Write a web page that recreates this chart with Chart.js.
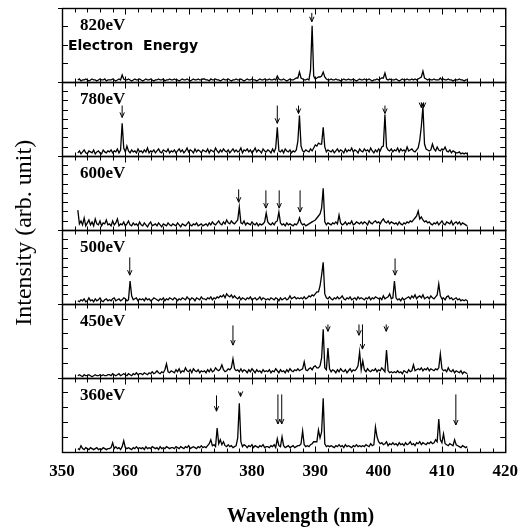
<!DOCTYPE html>
<html>
<head>
<meta charset="utf-8">
<script src="https://cdn.jsdelivr.net/npm/chart.js@4"></script>
<style>
  body { margin: 0; background: #fff; }
  canvas { display: block; }
</style>
</head>
<body>
<canvas id="espectros" width="528" height="531"></canvas>
<script>
/* ----- Datos ----- */
// eje de longitud de onda: cada serie empieza en 352.5 nm, un punto cada 0.25 nm
const wavelengthStart = 352.5;
const wavelengthStep = 0.25;
const xTickLabels = [350, 360, 370, 380, 390, 400, 410, 420];
const energies = ["820eV", "780eV", "600eV", "500eV", "450eV", "360eV"];
const yTickCounts = [4, 8, 8, 8, 5, 5];
const panelMax = 75;

const s820 = [
  2,3,1,2,2,3,2,1,2,3,2,2,1,2,3,2,2,3,1,2,
  2,2,3,2,1,2,3,2,7,3,2,2,3,2,1,2,3,2,2,3,
  2,1,2,3,2,2,3,2,1,2,2,3,2,2,3,1,2,2,3,2,
  2,3,2,2,1,2,3,2,2,3,2,1,2,3,2,2,3,2,2,3,
  3,2,2,1,3,2,2,3,2,2,1,2,3,2,2,3,2,1,2,2,
  3,2,2,3,2,1,2,3,2,2,3,2,2,1,2,3,2,2,3,2,
  2,3,2,2,3,2,6,3,2,2,3,2,1,2,3,2,2,3,4,4,
  10,4,3,2,2,3,2,12,57,6,3,4,5,5,6,10,5,3,2,2,
  3,2,2,3,2,2,1,2,3,2,2,3,2,2,3,2,1,2,3,2,
  2,3,2,2,3,2,1,2,2,3,2,3,4,4,9,3,2,3,2,2,
  2,3,2,1,2,3,2,2,3,2,2,3,2,3,2,3,4,5,11,4,
  3,2,3,2,2,3,2,2,2,4,2,3,2,2,3,2,2,1,2,2,
  2,3,2,2,1,2,2
];
const s780 = [
  3,5,2,4,6,3,2,5,4,3,6,2,4,5,3,2,6,4,3,5,
  4,6,3,5,4,7,3,6,33,8,4,10,5,3,6,4,5,3,7,4,
  5,3,6,4,8,3,5,4,6,3,5,7,4,3,6,5,4,7,3,5,
  4,6,3,5,7,4,6,3,5,8,4,6,5,3,7,4,6,5,3,6,
  5,4,7,3,6,5,4,8,5,3,6,4,7,5,4,6,3,5,7,4,
  6,4,5,8,3,6,5,7,4,6,3,5,8,4,6,5,3,7,5,4,
  6,5,3,7,4,8,29,5,4,6,3,7,5,4,6,3,5,4,6,15,
  41,10,5,4,6,5,4,7,5,8,11,10,13,12,12,29,9,4,6,5,
  4,6,3,5,7,4,6,5,3,7,4,6,5,8,4,6,5,3,7,5,
  4,7,5,6,4,8,5,3,6,4,7,5,9,10,42,9,6,5,7,4,
  6,5,8,4,7,5,6,4,9,5,6,7,5,4,6,8,16,30,50,12,
  7,6,5,6,12,7,5,9,6,5,7,6,9,5,4,6,3,5,4,3,
  3,4,2,3,2,3,2
];
const s600 = [
  20,6,9,5,12,4,7,10,5,8,4,11,6,5,9,4,7,6,10,5,
  6,4,9,5,7,11,4,6,5,8,4,6,9,5,4,7,5,6,4,8,
  5,4,7,5,3,6,8,4,5,6,4,7,5,3,6,5,4,7,5,4,
  6,5,4,7,5,3,6,5,4,6,8,5,4,6,5,7,4,5,6,4,
  5,6,4,7,5,8,6,5,7,9,6,5,8,6,10,7,6,9,7,6,
  8,10,23,7,6,9,5,7,6,5,8,6,5,7,4,6,5,6,8,17,
  8,6,5,7,5,8,9,18,7,5,6,4,7,5,6,5,4,6,5,7,
  12,7,5,6,4,5,6,7,8,9,10,12,14,16,22,42,8,5,7,6,
  5,7,6,8,6,15,7,5,6,8,5,7,6,9,5,6,8,7,6,8,
  6,8,7,5,9,7,6,8,9,7,8,6,9,11,8,7,9,6,8,7,
  6,7,5,8,6,5,7,6,8,7,9,8,10,12,14,19,11,13,10,8,
  9,7,8,6,5,7,6,8,5,7,9,6,5,8,7,6,9,5,7,8,
  6,8,5,7,6,5,4
];
const s500 = [
  3,2,4,3,5,2,3,6,3,4,2,5,3,4,6,3,2,4,5,3,
  4,3,5,6,3,4,5,3,4,6,5,3,4,23,8,4,5,6,3,5,
  4,5,3,6,4,5,3,4,6,5,4,3,5,4,6,3,5,4,6,5,
  4,6,5,3,5,4,6,5,4,7,5,4,6,5,3,6,5,4,7,5,
  5,4,6,5,7,4,6,5,7,6,8,7,9,6,10,8,7,9,6,8,
  6,5,7,4,6,5,4,6,5,7,4,5,6,4,5,7,4,6,5,4,
  5,4,6,5,4,6,5,3,6,4,5,6,4,5,8,5,6,7,5,6,
  5,6,5,7,5,6,8,7,9,8,10,12,12,18,29,42,10,6,5,7,
  5,4,6,5,7,5,6,8,5,4,6,5,7,4,5,6,4,7,5,6,
  5,4,6,5,7,4,6,5,7,6,5,6,4,8,5,6,7,10,5,6,
  23,6,4,5,3,6,4,5,6,7,5,8,6,9,5,7,8,6,9,5,
  6,7,5,8,6,5,7,9,20,8,5,6,4,7,8,5,6,4,5,6,
  4,5,3,4,3,4,3
];
const s450 = [
  2,3,2,1,3,2,2,3,2,1,2,3,2,2,3,2,3,2,2,3,
  3,2,4,3,2,3,4,2,3,4,3,2,4,3,2,4,3,5,3,4,
  4,3,5,4,3,5,4,6,4,5,7,5,4,6,5,8,14,6,5,7,
  6,5,8,6,9,5,7,6,10,7,6,8,5,9,7,6,8,5,7,6,
  7,5,8,6,9,6,7,10,8,7,9,13,8,6,7,9,8,10,19,9,
  7,8,6,9,6,8,7,5,8,6,9,7,5,8,6,7,5,8,6,7,
  6,8,5,7,6,9,7,5,8,6,7,5,8,6,9,7,6,8,7,9,
  7,8,9,16,8,7,9,10,8,11,12,10,10,12,20,49,10,8,30,9,
  6,8,7,5,8,6,9,7,6,8,5,7,9,6,8,7,9,12,26,8,
  17,8,6,9,7,6,8,7,9,6,8,7,10,8,6,28,7,5,6,5,
  6,5,7,5,6,4,7,6,5,8,6,7,13,7,8,9,8,10,7,9,
  8,10,7,9,8,7,9,8,10,24,9,7,8,6,10,7,6,8,5,7,
  6,5,7,4,6,5,4
];
const s360 = [
  3,2,6,3,2,4,3,2,4,3,2,3,4,2,3,2,4,3,2,3,
  3,4,9,3,5,3,4,2,5,11,4,3,4,3,2,4,3,5,3,4,
  3,4,2,5,3,4,3,5,4,3,4,2,5,3,4,3,5,4,3,4,
  4,3,5,4,3,5,4,3,5,4,6,3,4,5,4,3,5,4,6,4,
  5,4,6,8,12,6,7,5,24,8,12,7,10,6,5,7,5,6,4,5,
  6,14,49,10,5,7,6,4,6,5,7,4,6,5,4,6,5,7,4,5,
  5,4,6,5,7,4,13,6,5,15,6,4,5,6,4,5,6,4,5,6,
  6,8,21,7,5,6,5,7,8,10,10,10,22,14,20,54,8,5,6,5,
  6,5,4,6,5,7,5,6,4,7,5,6,5,4,6,5,7,5,6,5,
  6,5,7,6,5,8,6,7,25,15,10,8,9,7,8,10,6,8,7,9,
  7,8,6,9,7,8,6,9,7,8,10,7,8,6,9,8,10,7,9,8,
  7,9,8,10,8,9,12,10,33,12,9,18,8,7,6,8,7,6,12,7,
  6,5,4,6,5,4,5
];
const series = [s820, s780, s600, s500, s450, s360];

/* ----- Flechas: [longitud de onda, valor arriba, valor punta] ----- */
const arrows820 = [[389.45, 70, 61]];
const arrows780 = [[359.5, 51, 39], [384.0, 51, 33], [387.35, 51, 43], [401.0, 51, 43], [406.75, 54, 49], [407.1, 54, 49]];
const arrows600 = [[377.9, 41, 28], [382.2, 40, 22], [384.3, 40, 22], [387.6, 40, 18]];
const arrows500 = [[360.7, 47, 29], [402.6, 46, 29]];
const arrows450 = [[377.0, 53, 33], [392.0, 54, 47], [396.9, 54, 43], [397.45, 54, 29], [401.2, 54, 47]];
const arrows360 = [[374.4, 57, 41], [378.2, 60, 56], [384.1, 58, 28], [384.7, 58, 28], [412.2, 58, 27]];
const arrows = [arrows820, arrows780, arrows600, arrows500, arrows450, arrows360];

/* ----- Ejes ----- */
const panelIds = energies.map((e, i) => "y" + i);
const serif = '"Liberation Serif", "Times New Roman", serif';

const scales = {
    x: {
        type: "linear",
        min: 350,
        max: 420,
        afterBuildTicks: s => { s.ticks = xTickLabels.map(v => ({ value: v })); },
        ticks: { color: "#000", font: { family: serif, weight: "bold", size: 17 }, padding: 10, maxRotation: 0 },
        grid: { display: false, drawTicks: false },
        border: { display: false }
    }
};
// los ejes de la izquierda se apilan al reves, asi que se crean del ultimo al primero
panelIds.slice().reverse().forEach(id => {
    scales[id] = { type: "linear", min: 0, max: panelMax, position: "left", stack: "paneles", stackWeight: 1, display: false };
});

/* ----- Marco, marcas, flechas y textos ----- */
const marco = {
    id: "marco",
    afterDatasetsDraw(chart) {
        const ctx = chart.ctx;
        const xs = chart.scales.x;
        const left = chart.chartArea.left, right = chart.chartArea.right;
        ctx.save();
        ctx.strokeStyle = "#000";
        ctx.fillStyle = "#000";
        ctx.lineWidth = 1;

        panelIds.forEach((id, i) => {
            const ys = chart.scales[id];
            const top = Math.round(ys.top) + 0.5, bottom = Math.round(ys.bottom) + 0.5;

            // marco del panel
            ctx.lineWidth = 1.4;
            ctx.strokeRect(left + 0.5, top, right - left, bottom - top);
            ctx.lineWidth = 1;

            // marcas del eje x, hacia dentro
            ctx.beginPath();
            for (let v = 350; v <= 420; v += 2) {
                const px = Math.round(xs.getPixelForValue(v)) + 0.5;
                const len = v % 10 === 0 ? 6 : 4;
                ctx.moveTo(px, top); ctx.lineTo(px, top + len);
                ctx.moveTo(px, bottom); ctx.lineTo(px, bottom - len);
            }
            // marcas del eje y
            const n = yTickCounts[i];
            for (let k = 1; k < n; k++) {
                const py = Math.round(ys.getPixelForValue(k * panelMax / n)) + 0.5;
                ctx.moveTo(left, py); ctx.lineTo(left + 6, py);
                ctx.moveTo(right, py); ctx.lineTo(right - 5, py);
            }
            ctx.moveTo(left - 4, top); ctx.lineTo(left + 6, top);
            ctx.stroke();

            // flechas
            arrows[i].forEach(([w, a, b]) => {
                const px = xs.getPixelForValue(w);
                const y1 = ys.getPixelForValue(a), y2 = ys.getPixelForValue(b);
                ctx.beginPath();
                ctx.moveTo(px, y1); ctx.lineTo(px, y2);
                ctx.moveTo(px - 2.2, y2 - 5); ctx.lineTo(px, y2); ctx.lineTo(px + 2.2, y2 - 5);
                ctx.stroke();
            });

            // etiqueta de energia
            ctx.font = "bold 17px " + serif;
            ctx.textAlign = "left";
            ctx.textBaseline = "middle";
            ctx.fillText(energies[i], 80, ys.top + 18);
        });

        ctx.font = 'bold 14px "DejaVu Sans", sans-serif';
        ctx.textBaseline = "alphabetic";
        ctx.fillText("Electron  Energy", 68, 49.5);

        // titulos de los ejes
        ctx.font = "bold 20px " + serif;
        ctx.textAlign = "center";
        ctx.textBaseline = "middle";
        ctx.fillText("Wavelength (nm)", (left + right) / 2 + 17, 517);

        ctx.translate(25, (chart.chartArea.top + chart.chartArea.bottom) / 2 + 3);
        ctx.rotate(-Math.PI / 2);
        ctx.font = "24px " + serif;
        ctx.fillText("Intensity (arb. unit)", 0, 0);
        ctx.restore();
    }
};

/* ----- Grafico ----- */
new Chart(document.getElementById("espectros"), {
    type: "line",
    data: {
        datasets: series.map((vals, i) => ({
            label: energies[i],
            data: vals.map((v, k) => ({ x: wavelengthStart + k * wavelengthStep, y: v })),
            yAxisID: panelIds[i],
            borderColor: "#000",
            borderWidth: 1.3,
            pointRadius: 0,
            tension: 0,
            fill: false
        }))
    },
    options: {
        responsive: false,
        animation: false,
        devicePixelRatio: 1,
        layout: { padding: { left: 62, right: 20, top: 8, bottom: 39 } },
        plugins: { legend: { display: false }, tooltip: { enabled: false } },
        scales: scales
    },
    plugins: [marco]
});
</script>
</body>
</html>
